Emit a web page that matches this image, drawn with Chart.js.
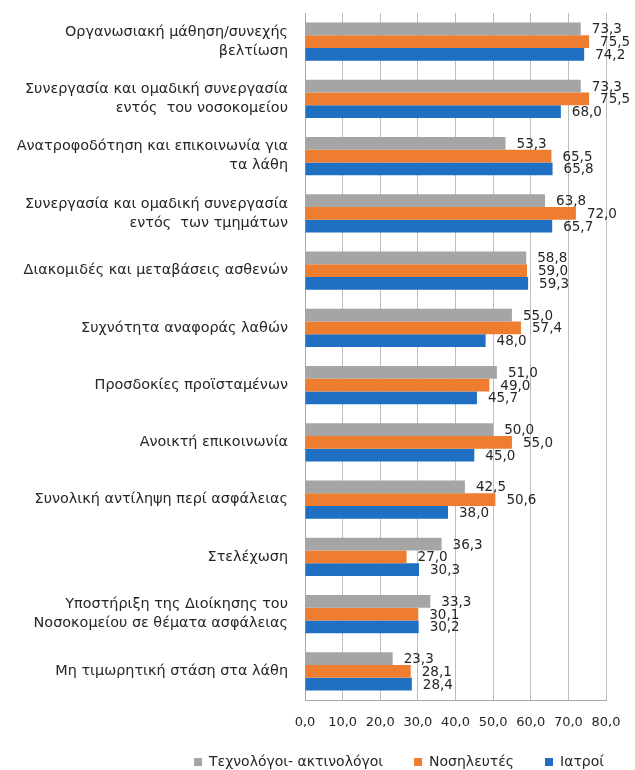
<!DOCTYPE html>
<html>
<head>
<meta charset="utf-8">
<script src="https://cdn.jsdelivr.net/npm/chart.js@4.4.1/dist/chart.umd.min.js"></script>
<style>
  html, body { margin: 0; padding: 0; background: #fff; }
  #wrap { width: 635px; height: 770px; position: relative; }
</style>
</head>
<body>
<div id="wrap"><canvas id="c"></canvas></div>
<script>
const categories = [
  ["Οργανωσιακή μάθηση/συνεχής", "βελτίωση"],
  ["Συνεργασία και ομαδική συνεργασία", "εντός  του νοσοκομείου"],
  ["Ανατροφοδότηση και επικοινωνία για", "τα λάθη"],
  ["Συνεργασία και ομαδική συνεργασία", "εντός  των τμημάτων"],
  "Διακομιδές και μεταβάσεις ασθενών",
  "Συχνότητα αναφοράς λαθών",
  "Προσδοκίες προϊσταμένων",
  "Ανοικτή επικοινωνία",
  "Συνολική αντίληψη περί ασφάλειας",
  "Στελέχωση",
  ["Υποστήριξη της Διοίκησης του", "Νοσοκομείου σε θέματα ασφάλειας"],
  "Μη τιμωρητική στάση στα λάθη"
];
const seriesNames = ["Τεχνολόγοι- ακτινολόγοι", "Νοσηλευτές", "Ιατροί"];
const technologists = [73.3, 73.3, 53.3, 63.8, 58.8, 55.0, 51.0, 50.0, 42.5, 36.3, 33.3, 23.3];
const nurses        = [75.5, 75.5, 65.5, 72.0, 59.0, 57.4, 49.0, 55.0, 50.6, 27.0, 30.1, 28.1];
const doctors       = [74.2, 68.0, 65.8, 65.7, 59.3, 48.0, 45.7, 45.0, 38.0, 30.3, 30.2, 28.4];
const xTicks = [0, 10, 20, 30, 40, 50, 60, 70, 80];

const colors = ["#A5A5A5", "#EE7D2F", "#1F6FC3"];
const fmt = v => v.toFixed(1).replace('.', ',');

const valueLabels = {
  id: 'valueLabels',
  afterDatasetsDraw(chart) {
    const ctx = chart.ctx;
    ctx.save();
    ctx.font = '13.5px "DejaVu Sans"';
    ctx.fillStyle = '#262626';
    ctx.textAlign = 'left';
    ctx.textBaseline = 'middle';
    chart.data.datasets.forEach((ds, di) => {
      const meta = chart.getDatasetMeta(di);
      meta.data.forEach((el, i) => {
        ctx.fillText(fmt(ds.data[i]), el.x + 11, el.y + 1);
      });
    });
    ctx.restore();
  }
};

const legendPlace = {
  id: 'legendPlace',
  beforeLayout(chart) {
    const lg = chart.legend;
    if (lg && !lg._fixedH) {
      const orig = lg.fit.bind(lg);
      lg.fit = function () { orig(); this.height = 39; };
      lg._fixedH = true;
    }
  },
  afterLayout(chart) {
    const lg = chart.legend;
    if (lg) { lg.top -= 7; lg.height += 7; }
  }
};

new Chart(document.getElementById('c'), {
  type: 'bar',
  data: {
    labels: categories,
    datasets: [
      { label: seriesNames[0], data: technologists, backgroundColor: colors[0] },
      { label: seriesNames[1], data: nurses, backgroundColor: colors[1] },
      { label: seriesNames[2], data: doctors, backgroundColor: colors[2] }
    ]
  },
  options: {
    indexAxis: 'y',
    responsive: true,
    maintainAspectRatio: false,
    animation: false,
    devicePixelRatio: 1,
    datasets: { bar: { categoryPercentage: 0.67, barPercentage: 1.0 } },
    layout: { padding: { top: 13, right: 0, left: 0, bottom: 0 } },
    scales: {
      x: {
        min: 0, max: 80,
        afterBuildTicks: s => { s.ticks = xTicks.map(v => ({ value: v })); },
        ticks: {
          padding: 15,
          color: '#262626',
          font: { family: 'DejaVu Sans', size: 13 },
          callback: v => fmt(v)
        },
        grid: { color: '#BDBDBD', drawTicks: false, lineWidth: 1 },
        border: { display: true, color: '#A6A6A6' },
        afterFit: s => { s.height = 31; s.paddingRight = 29; }
      },
      y: {
        ticks: {
          padding: 17,
          color: '#262626',
          font: { family: 'DejaVu Sans', size: 14.4, lineHeight: 1.32 },
          autoSkip: false
        },
        grid: { display: false, drawTicks: false },
        border: { display: true, color: '#A6A6A6' },
        afterFit: s => { s.width = 305; s.paddingTop = 0; s.paddingBottom = 0; }
      }
    },
    plugins: {
      legend: {
        position: 'bottom',
        align: 'end',
        labels: {
          boxWidth: 8, boxHeight: 8, padding: 31,
          color: '#262626',
          font: { family: 'DejaVu Sans', size: 14 }
        }
      },
      tooltip: { enabled: false }
    }
  },
  plugins: [valueLabels, legendPlace]
});
</script>
</body>
</html>
